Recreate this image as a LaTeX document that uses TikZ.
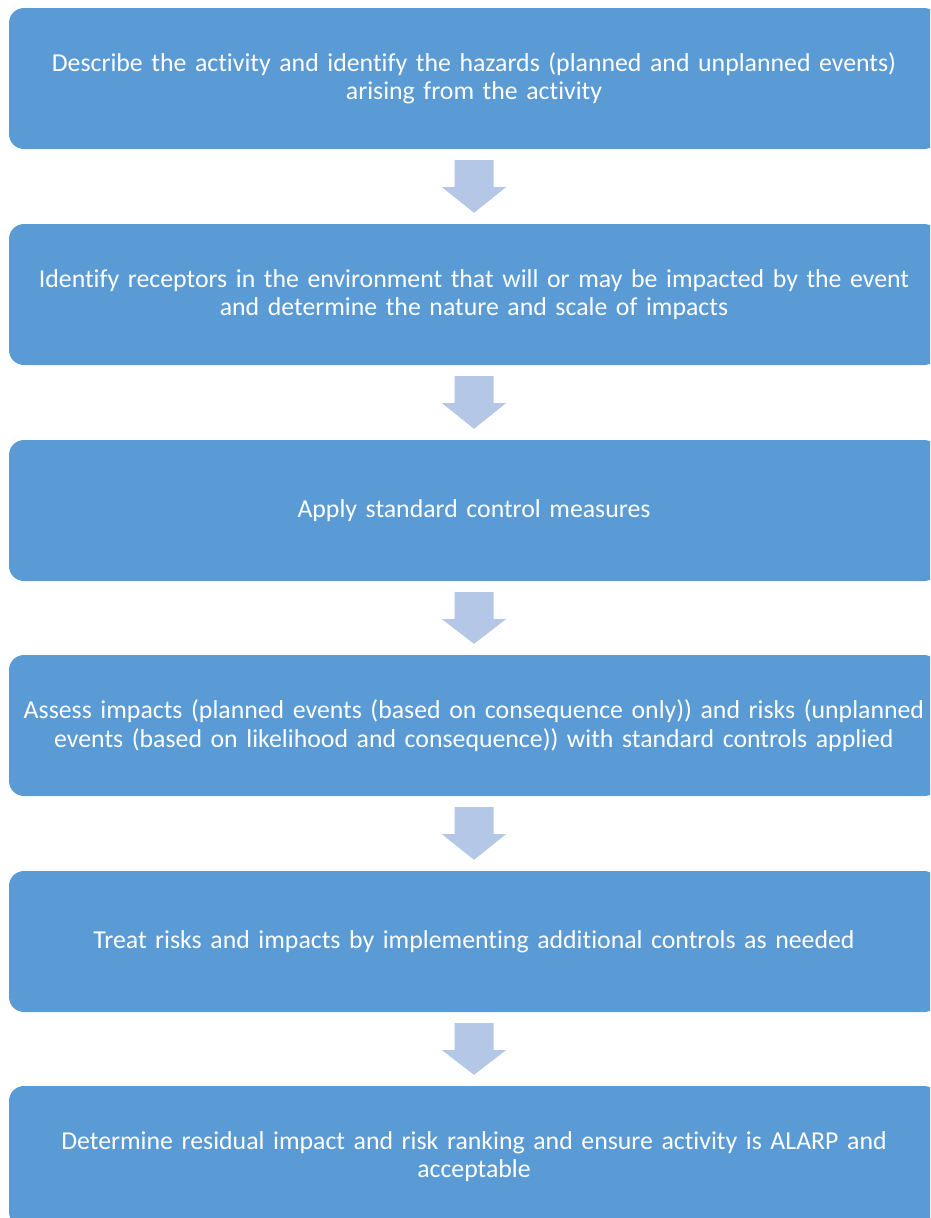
\documentclass[tikz,border=0pt]{standalone}
\usepackage{fontspec}
\setmainfont{Carlito}[Ligatures=NoCommon]
\usetikzlibrary{calc}
\definecolor{boxblue}{HTML}{5B9BD5}
\definecolor{arrowblue}{HTML}{B4C7E7}
\begin{document}
\begin{tikzpicture}[x=1pt,y=-1pt,
  stepbox/.style={fill=boxblue, draw=none, rounded corners=15pt,
    minimum width=930pt, minimum height=141pt, text width=928pt,
    align=center, text=white, inner sep=0pt,
    font=\fontsize{25.8}{28.5}\selectfont},
  flowarrow/.style={fill=arrowblue, draw=none}]
\useasboundingbox (0,0) rectangle (930,1218);
\clip (0,0) rectangle (930,1218);
\node[stepbox] (b1) at (474,78.5) {Describe the activity and identify the hazards (planned and unplanned events)\\arising from the activity};
\node[stepbox] (b2) at (474,294.5) {Identify receptors in the environment that will or may be impacted by the event\\and determine the nature and scale of impacts};
\node[stepbox] (b3) at (474,510.5) {Apply standard control measures};
\node[stepbox] (b4) at (474,725.5) {Assess impacts (planned events (based on consequence only)) and risks (unplanned\\events (based on likelihood and consequence)) with standard controls applied};
\node[stepbox] (b5) at (474,941.5) {Treat risks and impacts by implementing additional controls as needed};
\node[stepbox] (b6) at (474,1156.5) {Determine residual impact and risk ranking and ensure activity is ALARP and\\acceptable};
\foreach \a/\b in {b1/b2,b2/b3,b3/b4,b4/b5,b5/b6}{
  \fill[flowarrow]
    ($(\a.south)+(-19.5,11)$) -- ($(\a.south)+(19.5,11)$) --
    ($(\a.south)+(19.5,38)$) -- ($(\a.south)+(32,38)$) --
    ($(\b.north)+(0,-11)$) --
    ($(\a.south)+(-32,38)$) -- ($(\a.south)+(-19.5,38)$) -- cycle;
}
\end{tikzpicture}
\end{document}
